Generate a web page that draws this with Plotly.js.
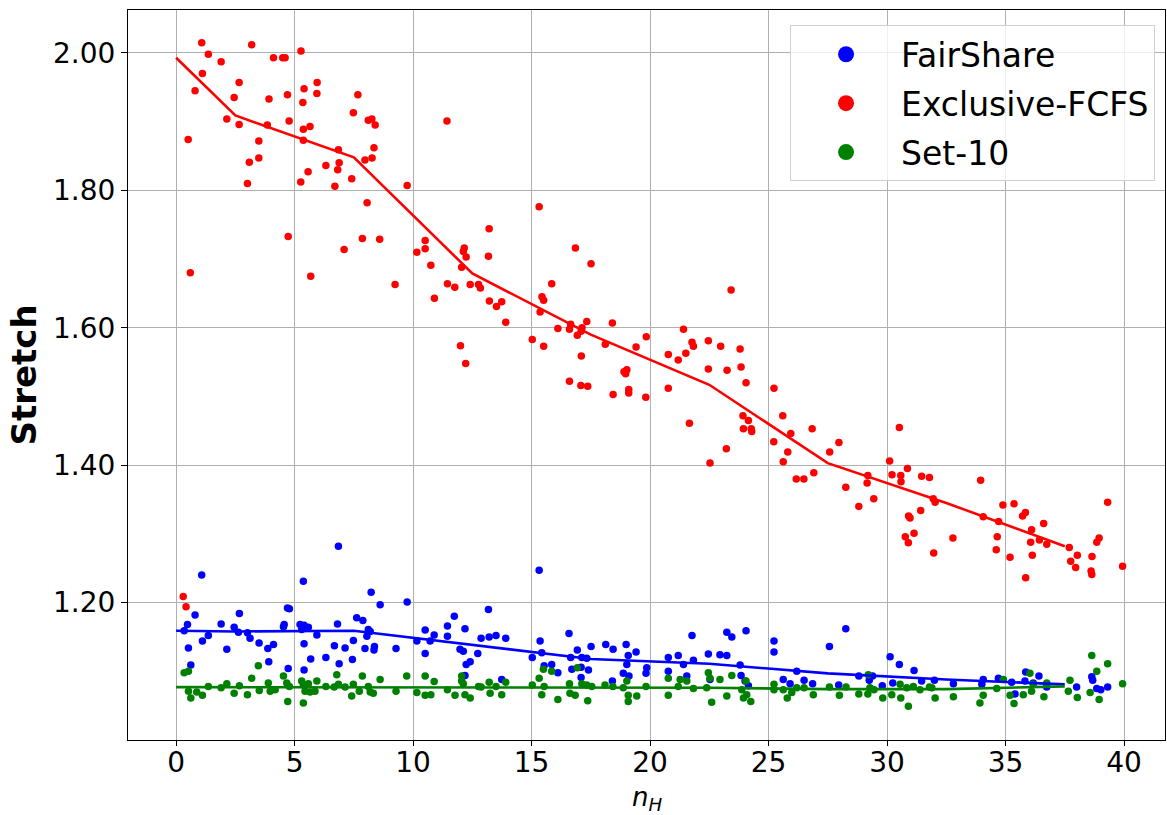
<!DOCTYPE html>
<html>
<head>
<meta charset="utf-8">
<script src="https://cdn.plot.ly/plotly-3.0.1.min.js"></script>
<style>html,body{margin:0;padding:0;background:#fff;}#chart{width:1167px;height:815px;}</style>
</head>
<body>
<div id="chart"></div>
<script>
const seriesNames = ["FairShare", "Exclusive-FCFS", "Set-10"];
const seriesColors = ["#0000ff", "#ff0000", "#008000"];
const xAxisTitle = "<i>n</i><sub><i>H</i></sub>";
const yAxisTitle = "<b>Stretch</b>";

const redPoints = [
[1.08,2.015],[3.19,2.012],[1.36,1.998],[4.11,1.993],[4.50,1.993],[4.60,1.993],[5.27,2.003],[1.90,1.987],
[1.11,1.970],[2.66,1.957],[0.80,1.945],[2.45,1.935],[3.92,1.933],[4.70,1.939],[5.40,1.948],[5.95,1.957],
[5.94,1.941],[5.35,1.928],[7.67,1.939],[7.48,1.913],[2.14,1.904],[2.66,1.896],[3.85,1.895],[4.77,1.901],
[5.37,1.889],[5.65,1.893],[8.11,1.902],[8.26,1.904],[8.40,1.895],[0.51,1.874],[3.49,1.872],[5.37,1.873],
[6.85,1.859],[8.35,1.862],[3.49,1.847],[3.09,1.841],[7.97,1.844],[8.27,1.847],[6.32,1.836],[6.88,1.840],
[6.82,1.830],[5.57,1.827],[7.41,1.817],[3.01,1.810],[5.26,1.812],[6.70,1.806],[9.75,1.807],[8.06,1.782],
[4.73,1.733],[7.86,1.730],[8.59,1.729],[7.09,1.714],[10.51,1.727],[10.51,1.715],[10.16,1.710],[10.75,1.691],
[0.60,1.680],[5.68,1.675],[0.30,1.209],[0.42,1.194],[11.43,1.901],[9.24,1.663],
[10.90,1.643],[11.45,1.664],[11.76,1.659],[12.05,1.688],[12.16,1.716],[12.12,1.711],[12.24,1.703],[12.41,1.663],
[12.76,1.663],[12.84,1.658],[13.21,1.744],[13.18,1.704],[13.22,1.639],[13.52,1.631],[13.74,1.638],[13.91,1.608],
[12.00,1.574],[12.22,1.548],[15.32,1.776],[16.85,1.716],[17.51,1.693],[15.85,1.664],[15.44,1.645],[15.51,1.640],
[15.36,1.623],[15.03,1.583],[15.51,1.573],[16.11,1.599],[16.65,1.605],[16.60,1.598],[17.13,1.600],[17.33,1.609],
[16.93,1.589],[17.09,1.595],[17.10,1.559],[18.11,1.576],[18.41,1.607],[19.41,1.572],[19.84,1.587],[16.60,1.522],
[17.08,1.516],[17.37,1.515],[18.44,1.503],[18.90,1.536],[19.02,1.539],[18.97,1.533],[19.10,1.510],[19.10,1.505],
[19.82,1.499],[20.77,1.561],[21.19,1.553],[21.51,1.563],[21.41,1.598],[21.77,1.579],[21.83,1.573],[20.77,1.512],
[22.46,1.581],[22.98,1.573],[23.80,1.569],[22.46,1.540],[23.25,1.538],[23.84,1.543],[24.05,1.520],[21.66,1.461],
[22.53,1.403],[23.92,1.472],[24.15,1.465],[23.94,1.453],[24.27,1.453],[24.29,1.449],[23.22,1.424],[25.23,1.512],
[25.60,1.472],[25.94,1.446],[25.22,1.434],[25.81,1.419],[25.62,1.405],[26.84,1.453],[26.17,1.380],[26.49,1.380],
[26.91,1.389],[27.58,1.419],[27.97,1.433],[28.26,1.368],[29.19,1.385],[29.16,1.374],[28.81,1.340],[29.44,1.351],
[30.52,1.455],[30.11,1.406],[30.21,1.386],[30.58,1.385],[30.59,1.376],[30.86,1.395],[31.46,1.384],[31.79,1.382],
[31.95,1.351],[32.03,1.346],[30.91,1.326],[31.42,1.334],[23.42,1.655],[33.95,1.378],[30.97,1.323],[30.77,1.296],
[30.90,1.287],[31.14,1.301],[31.97,1.272],[32.78,1.294],[34.06,1.325],[34.71,1.318],[34.89,1.342],[35.36,1.344],
[35.72,1.326],[35.84,1.331],[34.65,1.296],[34.61,1.277],[35.19,1.266],[35.85,1.236],[36.61,1.315],[36.10,1.306],
[36.06,1.288],[36.43,1.291],[36.74,1.285],[36.13,1.269],[37.69,1.280],[38.03,1.269],[37.75,1.260],[37.96,1.251],
[38.65,1.267],[38.61,1.246],[38.64,1.241],[38.85,1.288],[38.95,1.294],[39.31,1.346],[39.94,1.253]
];

const bluePoints = [
[6.85,1.282],[1.08,1.240],[5.37,1.231],[8.23,1.215],[8.61,1.197],[9.75,1.201],[0.80,1.182],[2.67,1.184],
[1.90,1.169],[0.48,1.168],[0.34,1.159],[2.45,1.164],[2.63,1.157],[3.01,1.156],[3.12,1.148],[3.50,1.141],
[1.36,1.152],[1.11,1.144],[4.70,1.192],[4.78,1.191],[4.56,1.168],[4.53,1.165],[5.23,1.168],[5.40,1.167],
[5.58,1.164],[5.30,1.161],[5.94,1.153],[6.81,1.169],[7.62,1.178],[7.88,1.174],[8.11,1.161],[8.05,1.151],
[8.19,1.158],[7.48,1.145],[7.97,1.133],[8.37,1.136],[8.35,1.131],[9.28,1.133],[10.51,1.160],[10.89,1.153],
[10.16,1.144],[10.72,1.144],[10.51,1.126],[0.52,1.134],[2.14,1.132],[3.87,1.133],[4.11,1.139],[0.62,1.109],
[3.91,1.114],[4.73,1.104],[5.40,1.140],[5.40,1.102],[5.68,1.118],[6.32,1.120],[6.68,1.137],[7.13,1.134],
[6.88,1.111],[7.44,1.117],[15.32,1.247],[13.18,1.190],[11.74,1.180],[11.45,1.166],[11.45,1.151],[12.19,1.162],
[11.98,1.132],[12.12,1.129],[12.73,1.126],[12.87,1.148],[13.21,1.150],[13.50,1.152],[13.91,1.148],[12.41,1.114],
[12.24,1.110],[12.19,1.094],[13.74,1.088],[15.36,1.144],[15.03,1.120],[15.43,1.127],[15.53,1.108],[15.85,1.110],
[16.11,1.098],[16.58,1.155],[16.93,1.131],[17.51,1.136],[16.65,1.120],[17.12,1.120],[17.33,1.119],[16.70,1.103],
[17.09,1.106],[17.40,1.102],[17.09,1.091],[18.13,1.139],[18.44,1.132],[18.99,1.139],[19.41,1.128],[19.08,1.123],
[19.02,1.110],[18.87,1.097],[19.11,1.093],[18.41,1.086],[19.86,1.105],[19.83,1.097],[20.77,1.120],[21.19,1.123],
[20.77,1.100],[21.77,1.152],[21.41,1.110],[21.83,1.116],[21.55,1.093],[23.24,1.157],[23.45,1.150],[24.05,1.159],
[22.46,1.125],[22.95,1.124],[23.24,1.123],[23.80,1.109],[23.84,1.094],[24.01,1.086],[24.15,1.079],[22.53,1.088],
[25.23,1.144],[25.23,1.128],[27.57,1.136],[28.26,1.162],[26.19,1.100],[25.62,1.088],[25.91,1.082],[26.50,1.087],
[26.86,1.082],[27.96,1.080],[28.81,1.093],[29.39,1.093],[29.25,1.087],[29.80,1.079],[30.13,1.121],[30.52,1.110],
[31.14,1.101],[30.24,1.083],[31.46,1.086],[32.00,1.087],[32.80,1.082],[34.06,1.088],[34.00,1.081],[34.70,1.090],
[35.26,1.084],[35.85,1.099],[35.82,1.086],[36.17,1.083],[36.41,1.093],[36.74,1.077],[35.40,1.067],[38.00,1.077],
[38.64,1.092],[38.68,1.087],[38.85,1.075],[39.02,1.073],[39.31,1.077]
];

const greenPoints = [
[0.34,1.098],[0.52,1.100],[3.47,1.108],[3.19,1.090],[0.52,1.071],[0.62,1.061],[0.87,1.070],[1.11,1.065],
[1.36,1.078],[1.90,1.076],[2.14,1.082],[2.45,1.068],[2.67,1.079],[3.01,1.066],[3.51,1.072],[3.89,1.083],
[3.97,1.071],[4.18,1.073],[4.53,1.093],[4.67,1.083],[4.71,1.056],[4.78,1.078],[5.30,1.086],[5.37,1.080],
[5.44,1.071],[5.37,1.054],[5.58,1.082],[5.65,1.070],[5.94,1.086],[5.86,1.071],[6.32,1.078],[6.78,1.095],
[6.85,1.081],[6.67,1.077],[7.13,1.077],[7.41,1.064],[7.48,1.081],[7.86,1.093],[7.73,1.071],[8.11,1.078],
[8.19,1.070],[8.32,1.068],[8.61,1.088],[9.28,1.071],[9.73,1.093],[10.16,1.069],[10.51,1.093],[10.51,1.065],
[10.89,1.085],[10.75,1.066],[11.45,1.073],[11.77,1.065],[12.05,1.093],[12.05,1.086],[12.12,1.082],[12.19,1.066],
[12.41,1.061],[12.76,1.078],[12.87,1.077],[13.21,1.084],[13.25,1.068],[13.50,1.078],[13.74,1.066],[13.91,1.084],
[15.03,1.080],[15.32,1.090],[15.50,1.103],[15.43,1.066],[15.53,1.078],[15.85,1.100],[16.11,1.059],[16.60,1.082],
[16.62,1.068],[16.84,1.065],[16.93,1.105],[17.12,1.082],[17.33,1.080],[17.54,1.078],[17.37,1.057],[18.10,1.080],
[18.43,1.078],[18.87,1.076],[19.02,1.086],[19.08,1.065],[19.08,1.056],[19.44,1.064],[19.83,1.078],[20.77,1.090],
[20.77,1.065],[21.19,1.078],[21.55,1.086],[21.83,1.075],[21.27,1.088],[22.46,1.098],[22.53,1.090],[22.95,1.088],
[23.45,1.094],[22.60,1.055],[23.24,1.064],[22.39,1.076],[23.87,1.073],[23.94,1.061],[24.08,1.066],[24.25,1.056],
[24.05,1.086],[25.23,1.081],[25.23,1.073],[25.62,1.073],[25.79,1.061],[25.98,1.069],[26.19,1.076],[26.50,1.076],
[26.89,1.066],[27.57,1.077],[27.99,1.065],[28.27,1.077],[28.81,1.067],[29.21,1.095],[29.28,1.076],[29.19,1.067],
[29.45,1.073],[29.82,1.061],[30.20,1.066],[30.55,1.081],[30.58,1.061],[30.90,1.049],[30.83,1.076],[31.11,1.078],
[31.39,1.073],[31.79,1.077],[32.03,1.061],[32.80,1.063],[31.89,1.076],[33.92,1.054],[34.06,1.065],[34.63,1.075],
[35.19,1.065],[35.36,1.053],[34.91,1.088],[35.75,1.066],[36.03,1.097],[36.10,1.071],[36.62,1.063],[36.74,1.083],
[36.17,1.081],[37.72,1.087],[37.65,1.071],[38.03,1.062],[38.64,1.123],[38.85,1.100],[39.31,1.111],[38.57,1.069],
[38.95,1.059],[39.94,1.082]
];

const trendX = [0, 2.5, 7.5, 12.5, 17.5, 22.5, 27.5, 32.5, 37.5];
const blueTrend = [1.159, 1.158, 1.159, 1.139, 1.118, 1.111, 1.097, 1.088, 1.081];
const redTrend = [1.993, 1.909, 1.848, 1.679, 1.590, 1.517, 1.403, 1.345, 1.282];
const greenTrend = [1.077, 1.077, 1.077, 1.076, 1.076, 1.076, 1.074, 1.074, 1.078];

const xTickVals = [0, 5, 10, 15, 20, 25, 30, 35, 40];
const yTickVals = [1.20, 1.40, 1.60, 1.80, 2.00];

const pointSets = [bluePoints, redPoints, greenPoints];
const trends = [blueTrend, redTrend, greenTrend];

const traces = [];
pointSets.forEach((pts, i) => {
  traces.push({
    type: 'scatter', mode: 'markers',
    x: pts.map(p => p[0]), y: pts.map(p => p[1]),
    marker: {color: seriesColors[i], size: 7.5, line: {width: 0}},
    showlegend: false, hoverinfo: 'skip'
  });
});
trends.forEach((t, i) => {
  traces.push({
    type: 'scatter', mode: 'lines',
    x: trendX, y: t,
    line: {color: seriesColors[i], width: 2.6},
    showlegend: false, hoverinfo: 'skip'
  });
});
seriesNames.forEach((name, i) => {
  traces.push({
    type: 'scatter', mode: 'markers', name: name,
    x: [null], y: [null], legendgroup: 'g' + i,
    marker: {color: seriesColors[i], size: 16}
  });
});

const layout = {
  width: 1167, height: 815,
  margin: {l: 128, r: 2, t: 10, b: 75},
  paper_bgcolor: '#ffffff', plot_bgcolor: '#ffffff',
  font: {family: 'DejaVu Sans', color: '#000000', size: 28},
  showlegend: true,
  legend: {
    x: 0.9904, xanchor: 'right', y: 0.979, yanchor: 'top',
    bgcolor: 'rgba(255,255,255,0.8)', bordercolor: '#d0d0d0', borderwidth: 1,
    font: {family: 'DejaVu Sans', size: 33, color: '#000'},
    tracegroupgap: 3, traceorder: 'grouped', itemwidth: 100
  },
  xaxis: {
    range: [-2.03, 41.73], tickvals: xTickVals, ticktext: xTickVals.map(String),
    showgrid: true, gridcolor: '#b0b0b0', gridwidth: 1, zeroline: false,
    showline: true, linecolor: '#000', linewidth: 1, mirror: true,
    ticks: 'outside', ticklen: 5, tickcolor: '#000', ticklabelstandoff: -8,
    tickfont: {family: 'DejaVu Sans', size: 28}
  },
  yaxis: {
    range: [1.0, 2.0625], tickvals: yTickVals, ticktext: yTickVals.map(v => v.toFixed(2)),
    showgrid: true, gridcolor: '#b0b0b0', gridwidth: 1, zeroline: false,
    showline: true, linecolor: '#000', linewidth: 1, mirror: true,
    ticks: 'outside', ticklen: 6, tickcolor: '#000',
    tickfont: {family: 'DejaVu Sans', size: 28},
    title: {text: yAxisTitle, font: {family: 'DejaVu Sans', size: 34}, standoff: 6}
  },
  annotations: [{
    text: xAxisTitle, xref: 'paper', yref: 'paper', x: 0.5, y: -0.08,
    xanchor: 'center', yanchor: 'middle', showarrow: false,
    font: {family: 'DejaVu Sans', size: 26, color: '#000'}
  }]
};

Plotly.newPlot('chart', traces, layout, {displayModeBar: false, staticPlot: true});
</script>
</body>
</html>
